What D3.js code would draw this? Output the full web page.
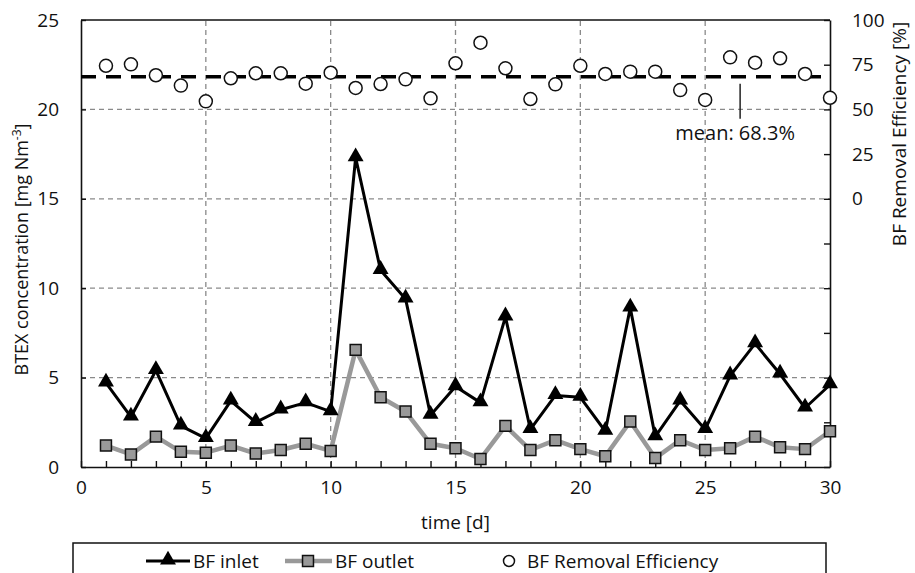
<!DOCTYPE html>
<html lang="en">
<head>
<meta charset="UTF-8" />
<title>BF BTEX</title>
<style>
  body { margin: 0; background: #fff; }
  svg text { font-family: "Open Sans", "Noto Sans", sans-serif; fill: #111; }
</style>
</head>
<body>
<div id="container"></div>
<script src="https://cdnjs.cloudflare.com/ajax/libs/d3/7.8.5/d3.min.js"></script>
<script>
  // data
  let days = d3.range(1, 31);
  let inlet = [4.7, 2.8, 5.4, 2.3, 1.6, 3.7, 2.5, 3.2, 3.6, 3.1,
               17.3, 11.0, 9.4, 2.9, 4.5, 3.6, 8.4, 2.1, 4.0, 3.9,
               2.0, 8.9, 1.7, 3.7, 2.1, 5.1, 6.9, 5.2, 3.3, 4.6];
  let outlet = [1.2, 0.7, 1.7, 0.85, 0.8, 1.2, 0.75, 0.95, 1.3, 0.9,
                6.55, 3.9, 3.1, 1.3, 1.05, 0.45, 2.3, 0.95, 1.5, 1.0,
                0.6, 2.55, 0.5, 1.5, 0.95, 1.05, 1.7, 1.1, 1.0, 2.0];
  let efficiency = [74.4, 75.2, 69.1, 63.3, 54.5, 67.4, 70.2, 70.2, 64.4, 70.5,
                    62.0, 64.2, 66.8, 56.2, 75.8, 87.3, 73.0, 55.8, 64.0, 74.4,
                    69.8, 71.1, 71.1, 60.8, 55.3, 79.1, 76.1, 78.6, 69.8, 56.5];
  let meanEff = 68.3;
  let xTicks = [0, 5, 10, 15, 20, 25, 30];
  let yTicks = [0, 5, 10, 15, 20, 25];

  let W = 915, H = 573;
  let m = { left: 81, right: 85, top: 20, bottom: 106 };
  let svg = d3.select('#container').append('svg').attr('width', W).attr('height', H);

  let x = d3.scaleLinear().domain([0, 30]).range([m.left, W - m.right]);
  let y = d3.scaleLinear().domain([0, 25]).range([H - m.bottom, m.top]);
  // right axis: 0..100 labelled in upper part, scale continues down to -150
  let yr = d3.scaleLinear().domain([-150, 100]).range([H - m.bottom, m.top]);

  // grid
  let grid = svg.append('g').attr('stroke', '#8a8a8a').attr('stroke-width', 1.3).attr('stroke-dasharray', '5,4');
  grid.selectAll('.gx').data(xTicks.filter(d => d > 0 && d < 30)).enter().append('line')
    .attr('x1', d => x(d)).attr('x2', d => x(d)).attr('y1', y(0)).attr('y2', y(25));
  grid.selectAll('.gy').data(yTicks.filter(d => d > 0 && d < 25)).enter().append('line')
    .attr('y1', d => y(d)).attr('y2', d => y(d)).attr('x1', x(0)).attr('x2', x(30));

  // axes
  let xAxis = svg.append('g').attr('transform', `translate(0,${y(0)})`)
    .call(d3.axisBottom(x).tickValues(d3.range(0, 31)).tickSizeInner(-6).tickSizeOuter(0).tickFormat(d => d % 5 == 0 ? d : ''));
  xAxis.selectAll('text').attr('dy', '1.25em').style('font-size', '19px');

  let yAxis = svg.append('g').attr('transform', `translate(${x(0)},0)`)
    .call(d3.axisLeft(y).tickValues(yTicks).tickSizeInner(-5).tickSizeOuter(0));
  yAxis.selectAll('text').attr('x', -22).style('font-size', '19px');

  let rAxis = svg.append('g').attr('transform', `translate(${x(30)},0)`)
    .call(d3.axisRight(yr).tickValues(d3.range(-150, 101, 25)).tickSizeInner(-6).tickSizeOuter(0)
      .tickFormat(d => d >= 0 ? d : ''));
  rAxis.selectAll('text').attr('x', 22).style('font-size', '19px');

  svg.selectAll('.domain').attr('stroke', '#111').attr('stroke-width', 1.6);
  svg.selectAll('.tick line').attr('stroke', '#111').attr('stroke-width', 1.4);
  svg.selectAll('.tick text').attr('fill', '#111');

  // top border
  svg.append('line').attr('x1', x(0)).attr('x2', x(30)).attr('y1', y(25)).attr('y2', y(25))
    .attr('stroke', '#111').attr('stroke-width', 1.6);

  // axis titles
  svg.append('text').attr('transform', `translate(28,${(y(0) + y(25)) / 2 + 6}) rotate(-90)`)
    .attr('text-anchor', 'middle').style('font-size', '18px')
    .html('BTEX concentration [mg Nm<tspan dy="-7" font-size="12px">-3</tspan><tspan dy="7">]</tspan>');
  svg.append('text').attr('transform', `translate(906,134) rotate(-90)`)
    .attr('text-anchor', 'middle').style('font-size', '19px').text('BF Removal Efficiency [%]');
  svg.append('text').attr('x', (x(0) + x(30)) / 2).attr('y', 529).attr('text-anchor', 'middle')
    .style('font-size', '19px').text('time [d]');

  // mean line
  svg.append('line').attr('x1', x(0)).attr('x2', x(30)).attr('y1', yr(meanEff)).attr('y2', yr(meanEff))
    .attr('stroke', '#000').attr('stroke-width', 3.5).attr('stroke-dasharray', '15,10');
  svg.append('line').attr('x1', x(26.4)).attr('x2', x(26.4)).attr('y1', yr(meanEff) + 7).attr('y2', yr(meanEff) + 42)
    .attr('stroke', '#222').attr('stroke-width', 1.5);
  svg.append('text').attr('x', x(26.4) - 5).attr('y', yr(meanEff) + 63).attr('text-anchor', 'middle')
    .style('font-size', '20px').text('mean: 68.3%');

  let tri = d3.symbol().type(d3.symbolTriangle).size(110);
  let sq = d3.symbol().type(d3.symbolSquare).size(120);

  // outlet series
  let lineOut = d3.line().x((d, i) => x(days[i])).y(d => y(d));
  svg.append('path').datum(outlet).attr('d', lineOut).attr('fill', 'none')
    .attr('stroke', '#999').attr('stroke-width', 4.5).attr('stroke-linejoin', 'round');
  svg.selectAll('.sq').data(outlet).enter().append('path')
    .attr('d', sq).attr('transform', (d, i) => `translate(${x(days[i])},${y(d)})`)
    .attr('fill', '#999').attr('stroke', '#111').attr('stroke-width', 1.5);

  // inlet series
  let lineIn = d3.line().x((d, i) => x(days[i])).y(d => y(d));
  svg.append('path').datum(inlet).attr('d', lineIn).attr('fill', 'none')
    .attr('stroke', '#000').attr('stroke-width', 3).attr('stroke-linejoin', 'round');
  svg.selectAll('.tri').data(inlet).enter().append('path')
    .attr('d', tri).attr('transform', (d, i) => `translate(${x(days[i])},${y(d) - 1})`)
    .attr('fill', '#000');

  // efficiency points
  svg.selectAll('.eff').data(efficiency).enter().append('circle')
    .attr('cx', (d, i) => x(days[i])).attr('cy', d => yr(d)).attr('r', 6.5)
    .attr('fill', '#fff').attr('stroke', '#111').attr('stroke-width', 1.5);

  // legend
  let lg = svg.append('g');
  lg.append('rect').attr('x', 73).attr('y', 543).attr('width', 753).attr('height', 40)
    .attr('fill', '#fff').attr('stroke', '#111').attr('stroke-width', 1.5);
  let ly = 561;
  lg.append('line').attr('x1', 146).attr('x2', 190).attr('y1', ly).attr('y2', ly).attr('stroke', '#000').attr('stroke-width', 3);
  lg.append('path').attr('d', tri).attr('transform', `translate(168,${ly - 1})`).attr('fill', '#000');
  lg.append('text').attr('x', 193).attr('y', ly + 7).style('font-size', '19px').text('BF inlet');
  lg.append('line').attr('x1', 285).attr('x2', 332).attr('y1', ly).attr('y2', ly).attr('stroke', '#999').attr('stroke-width', 4.5);
  lg.append('path').attr('d', sq).attr('transform', `translate(308,${ly})`).attr('fill', '#999').attr('stroke', '#111').attr('stroke-width', 1.5);
  lg.append('text').attr('x', 335).attr('y', ly + 7).style('font-size', '19px').text('BF outlet');
  lg.append('circle').attr('cx', 509).attr('cy', ly).attr('r', 5.5).attr('fill', '#fff').attr('stroke', '#111').attr('stroke-width', 1.5);
  lg.append('text').attr('x', 527).attr('y', ly + 7).style('font-size', '19px').text('BF Removal Efficiency');
</script>
</body>
</html>
